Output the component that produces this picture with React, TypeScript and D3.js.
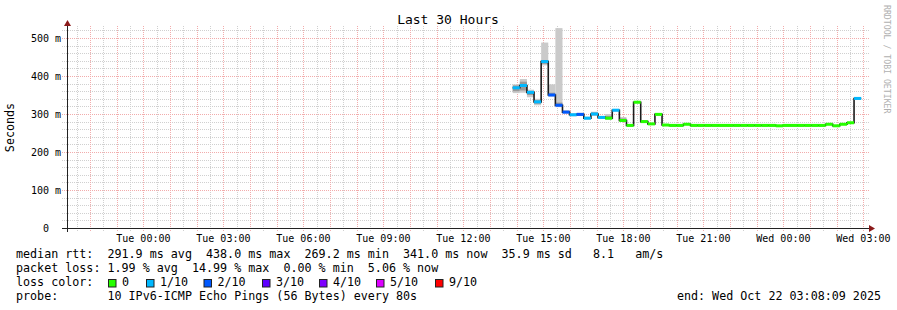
import React from "react";
import * as d3 from "d3";

// ---- data ----
const START = new Date(2025, 9, 20, 21, 8, 9);
const END = new Date(2025, 9, 22, 3, 8, 9);
const FIRST_SLOT = new Date(2025, 9, 21, 13, 51, 0);
const SLOT_MIN = 16;

// median rtt per slot (ms)
const medians = [
  369, 375, 357, 332, 438, 350, 323, 305, 298, 299,
  289, 300, 291, 289, 310, 283, 270, 331, 280, 274,
  299, 271, 270, 270, 273, 270, 270, 270, 270, 270,
  270, 270, 270, 270, 270, 270, 270, 269, 270, 270,
  270, 270, 270, 270, 273, 269, 273, 277, 341,
];
// lost pings out of 10 per slot
const lossCount = [
  1, 1, 1, 1, 1, 2, 2, 2, 1, 2,
  1, 1, 1, 0, 1, 0, 0, 0, 0, 0,
  0, 0, 0, 0, 0, 0, 0, 0, 0, 0,
  0, 0, 0, 0, 0, 0, 0, 0, 0, 0,
  0, 0, 0, 0, 0, 0, 0, 0, 1,
];
// smoke: outer (min..max) and inner band (ms)
const smokeLo = [
  355, 356, 344, 323, 428, 346, 318, 301, 294, 295,
  285, 295, 287, 285, 306, 280, 268, 328, 278, 272,
  297, 269, 268, 268, 271, 268, 268, 268, 268, 268,
  268, 268, 268, 268, 268, 268, 268, 267, 268, 268,
  268, 268, 268, 268, 271, 267, 271, 275, 338,
];
const smokeHi = [
  378, 392, 364, 340, 488, 378, 526, 310, 302, 303,
  293, 306, 295, 300, 313, 292, 272, 334, 283, 276,
  301, 273, 272, 272, 275, 272, 272, 272, 272, 272,
  272, 272, 272, 272, 272, 272, 272, 271, 272, 272,
  272, 272, 272, 272, 275, 271, 275, 279, 344,
];
const innerLo = [
  360, 362, 350, 327, 432, 348, 320, 302, 296, 297,
  287, 297, 289, 287, 308, 281, 269, 330, 279, 273,
  298, 270, 269, 269, 272, 269, 269, 269, 269, 269,
  269, 269, 269, 269, 269, 269, 269, 268, 269, 269,
  269, 269, 269, 269, 272, 268, 272, 276, 339,
];
const innerHi = [
  375, 385, 360, 336, 442, 356, 330, 308, 300, 301,
  291, 304, 293, 295, 312, 288, 271, 333, 282, 275,
  300, 272, 271, 271, 274, 271, 271, 271, 271, 271,
  271, 271, 271, 271, 271, 271, 271, 270, 271, 271,
  271, 271, 271, 271, 274, 270, 274, 278, 343,
];

const yTicks = [0, 100, 200, 300, 400, 500];
const lossLegend = [
  { label: "0", color: "#26ff00" },
  { label: "1/10", color: "#00b8ff" },
  { label: "2/10", color: "#0059ff" },
  { label: "3/10", color: "#5e00ff" },
  { label: "4/10", color: "#7e00ff" },
  { label: "5/10", color: "#dd00ff" },
  { label: "9/10", color: "#ff0000" },
];
const legendTextX = [122, 160, 217.5, 276, 333, 390, 449];

const title = "Last 30 Hours";
const yLabel = "Seconds";
const sideLabel = "RRDTOOL / TOBI OETIKER";
const statLine1 = "median rtt:  291.9 ms avg  438.0 ms max  269.2 ms min  341.0 ms now  35.9 ms sd   8.1   am/s";
const statLine2 = "packet loss: 1.99 % avg  14.99 % max  0.00 % min  5.06 % now";
const lossTitle = "loss color:";
const probeLine = "probe:       10 IPv6-ICMP Echo Pings (56 Bytes) every 80s";
const endLine = "end: Wed Oct 22 03:08:09 2025";

const MONO = "'DejaVu Sans Mono', monospace";

export default function App() {
  const x = d3.scaleTime().domain([START, END]).range([67, 867]);
  const y = d3.scaleLinear().domain([0, 531.6]).range([228, 26]);

  const slotStart = (i: number) => d3.timeMinute.offset(FIRST_SLOT, i * SLOT_MIN);

  const lossColor = (c: number) => {
    if (c <= 0) return lossLegend[0].color;
    if (c >= 6) return lossLegend[6].color;
    return lossLegend[c].color;
  };

  // grid
  const halfHours = d3.timeMinute.every(30)!.range(START, END).filter((d) => d.getMinutes() === 30);
  const hours = d3.timeHour.every(1)!.range(START, END);
  const labelHours = d3.timeHour.every(3)!.range(START, END);
  const fmt = d3.timeFormat("%a %H:%M");
  const minorY = d3.range(20, 531, 20).filter((v) => v % 100 !== 0);
  const majorY = d3.range(100, 531, 100);

  const pts: [number, number][] = medians.map((m, i) => [x(slotStart(i)), y(m)]);
  pts.push([x(slotStart(medians.length)), y(medians[medians.length - 1])]);
  const line = d3.line().curve(d3.curveStepAfter)(pts) || "";

  return (
    <div style={{ position: "absolute", left: 0, top: 0 }}>
      <svg width={897} height={310} style={{ display: "block", background: "#fff" }}>
        <rect x={0} y={0} width={897} height={310} fill="#ffffff" />
        {/* minor grid */}
        <g stroke="#d0d0d0" strokeWidth={1} strokeDasharray="1,1" shapeRendering="crispEdges">
          {minorY.map((v) => (
            <line key={"my" + v} x1={62} x2={869} y1={Math.round(y(v)) + 0.5} y2={Math.round(y(v)) + 0.5} />
          ))}
          {halfHours.map((d) => (
            <line key={"mx" + +d} x1={Math.round(x(d)) + 0.5} x2={Math.round(x(d)) + 0.5} y1={26} y2={231} />
          ))}
        </g>
        {/* major grid */}
        <g stroke="#f2acac" strokeWidth={1} strokeDasharray="1,1" shapeRendering="crispEdges">
          {majorY.map((v) => (
            <line key={"My" + v} x1={62} x2={869} y1={Math.round(y(v)) + 0.5} y2={Math.round(y(v)) + 0.5} />
          ))}
          {hours.map((d) => (
            <line key={"Mx" + +d} x1={Math.round(x(d)) + 0.5} x2={Math.round(x(d)) + 0.5} y1={26} y2={231} />
          ))}
        </g>

        {/* smoke */}
        {medians.map((_, i) => {
          const x0 = x(slotStart(i));
          const x1 = x(slotStart(i + 1));
          return (
            <g key={"s" + i}>
              <rect x={x0} width={x1 - x0} y={y(smokeHi[i])} height={y(smokeLo[i]) - y(smokeHi[i])} fill="#cacaca" />
              <rect x={x0} width={x1 - x0} y={y(innerHi[i])} height={y(innerLo[i]) - y(innerHi[i])} fill="#999999" />
            </g>
          );
        })}

        {/* median line */}
        <path d={line} fill="none" stroke="#1c1c1c" strokeWidth={1.6} />

        {/* loss colored median bars */}
        {medians.map((m, i) => {
          const x0 = x(slotStart(i));
          const x1 = x(slotStart(i + 1));
          return <rect key={"c" + i} x={x0} width={x1 - x0} y={y(m) - 1.5} height={3} fill={lossColor(lossCount[i])} />;
        })}

        {/* axes */}
        <line x1={62} x2={870} y1={228.5} y2={228.5} stroke="#222" strokeWidth={1} />
        <line x1={67.5} x2={67.5} y1={232} y2={25} stroke="#222" strokeWidth={1} />
        <path d="M869,225 L875,228.5 L869,232 Z" fill="#8b1a1a" />
        <path d="M64,26 L67.5,20 L71,26 Z" fill="#8b1a1a" />

        {/* y tick labels */}
        <g fontFamily={MONO} fontSize={10} fill="#000">
          {yTicks.map((v) => (
            <text key={"yl" + v} x={v === 0 ? 49 : 61} y={y(v) + 3.6} textAnchor="end">
              {v === 0 ? "0" : `${v} m`}
            </text>
          ))}
          {labelHours.map((d) => (
            <text key={"xl" + +d} x={x(d)} y={241.5} textAnchor="middle">
              {fmt(d)}
            </text>
          ))}
        </g>

        {/* title */}
        <text x={448} y={24} textAnchor="middle" fontFamily={MONO} fontSize={13} fill="#000">
          {title}
        </text>
        <text
          transform="translate(14,127.5) rotate(-90)"
          textAnchor="middle"
          fontFamily={MONO}
          fontSize={11.7}
          fill="#000"
        >
          {yLabel}
        </text>
        <text transform="translate(883.5,5) rotate(90)" fontFamily={MONO} fontSize={8.2} fill="#b0b0b0">
          {sideLabel}
        </text>

        {/* legend */}
        <g fontFamily={MONO} fontSize={11.7} fill="#000" style={{ whiteSpace: "pre" }}>
          <text x={16} y={258} xmlSpace="preserve">{statLine1}</text>
          <text x={16} y={272} xmlSpace="preserve">{statLine2}</text>
          <text x={16} y={286} xmlSpace="preserve">{lossTitle}</text>
          {lossLegend.map((l, i) => (
            <g key={"lg" + i}>
              <rect x={legendTextX[i] - 13.5} y={279.5} width={7.5} height={7.5} fill={l.color} stroke="#222" strokeWidth={1} />
              <text x={legendTextX[i]} y={286}>{l.label}</text>
            </g>
          ))}
          <text x={16} y={300} xmlSpace="preserve">{probeLine}</text>
          <text x={881} y={300} textAnchor="end">{endLine}</text>
        </g>
      </svg>
    </div>
  );
}
